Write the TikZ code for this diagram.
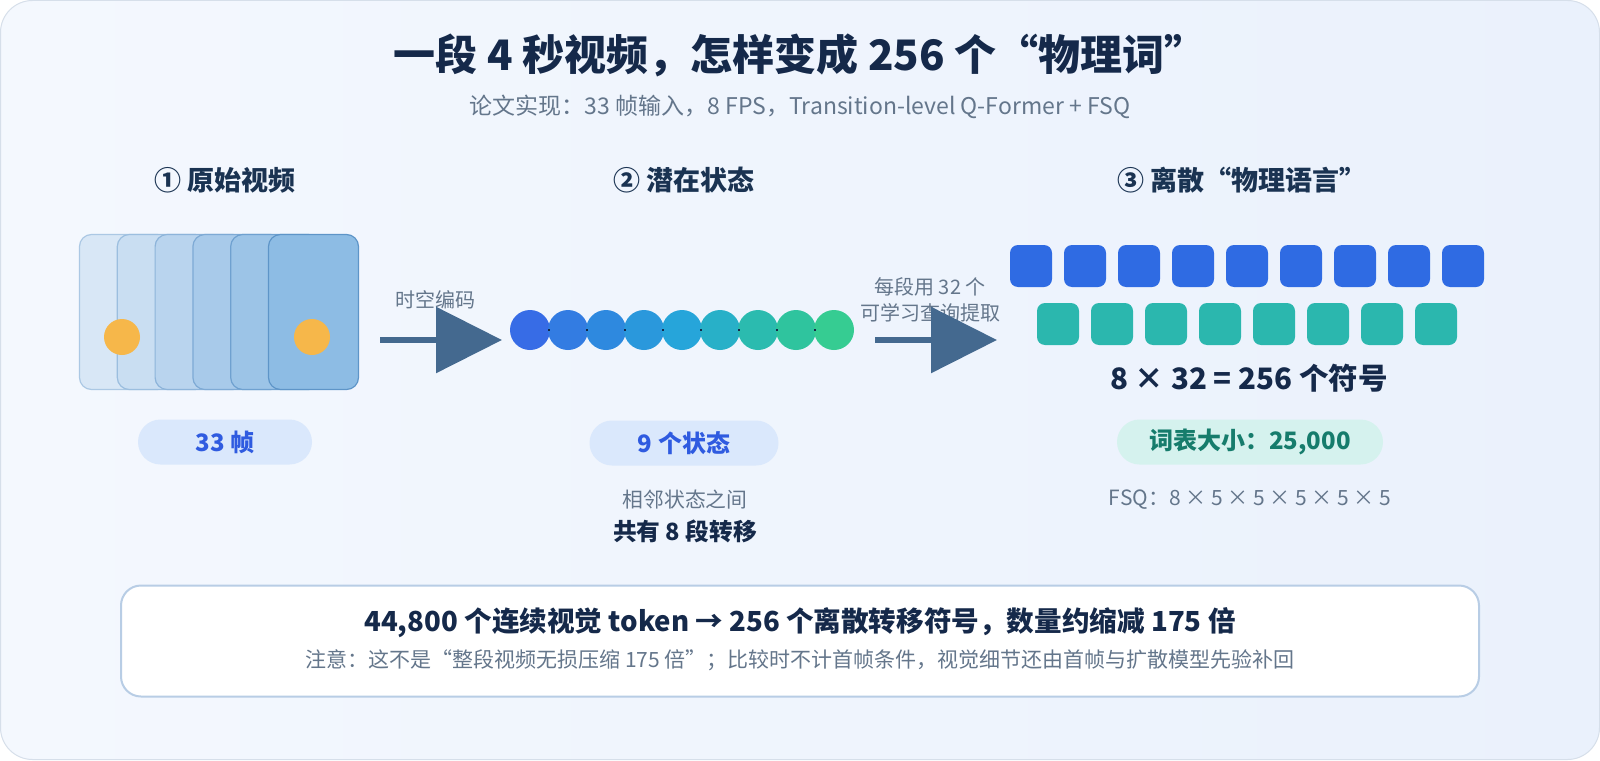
\documentclass[tikz,border=0pt]{standalone}
\usepackage{fontspec}
\setmainfont{Noto Sans CJK SC}
\usetikzlibrary{arrows.meta}
\definecolor{bgA}{HTML}{F4F8FE}
\definecolor{bgB}{HTML}{EAF1FC}
\definecolor{bgline}{HTML}{D6DFEA}
\definecolor{navy}{HTML}{15294A}
\definecolor{head}{HTML}{1A3352}
\definecolor{grayt}{HTML}{64768B}
\definecolor{pillB}{HTML}{DAE8FC}
\definecolor{pillBt}{HTML}{2F5BE0}
\definecolor{pillT}{HTML}{D5F2EE}
\definecolor{pillTt}{HTML}{167C6C}
\definecolor{arrc}{HTML}{44698F}
\definecolor{sqB}{HTML}{2F6BE3}
\definecolor{sqT}{HTML}{2BB7AE}
\definecolor{orng}{HTML}{F6B74A}
\definecolor{S0}{HTML}{376CE6}
\definecolor{S1}{HTML}{337CE2}
\definecolor{S2}{HTML}{2E89DF}
\definecolor{S3}{HTML}{2A98DC}
\definecolor{S4}{HTML}{26A5DA}
\definecolor{S5}{HTML}{28B0C8}
\definecolor{S6}{HTML}{2BBBAF}
\definecolor{S7}{HTML}{2FC49E}
\definecolor{S8}{HTML}{36CC92}
\definecolor{boxline}{HTML}{B8CDE5}
\definecolor{F0}{HTML}{D8E7F6}\definecolor{D0}{HTML}{ABC8E4}
\definecolor{F1}{HTML}{C9DEF2}\definecolor{D1}{HTML}{9BBEDF}
\definecolor{F2}{HTML}{B9D4EE}\definecolor{D2}{HTML}{8DB4DA}
\definecolor{F3}{HTML}{A8CAEA}\definecolor{D3}{HTML}{7EAAD5}
\definecolor{F4}{HTML}{9CC4E7}\definecolor{D4}{HTML}{6FA1D0}
\definecolor{F5}{HTML}{8DBCE4}\definecolor{D5}{HTML}{5E95C8}
\newcommand\fsz[1]{\fontsize{#1}{#1}\selectfont}
\begin{document}
\begin{tikzpicture}[x=1pt,y=-1pt,
  titletext/.style={font=\bfseries\fsz{42}, text=navy},
  subtext/.style={font=\fsz{23}, text=grayt},
  headtext/.style={font=\bfseries\fsz{27}, text=head},
  smalltext/.style={font=\fsz{20}, text=grayt},
  frame/.style={rounded corners=12pt, line width=1.2pt, minimum width=90pt, minimum height=155pt, inner sep=0pt},
  ball/.style={circle, fill=orng, minimum size=36pt, inner sep=0pt},
  state/.style={circle, minimum size=40pt, inner sep=0pt},
  sq/.style={rounded corners=8pt, minimum size=42pt, inner sep=0pt},
  pill/.style={rounded corners=22.5pt, minimum height=45pt, inner sep=0pt, font=\bfseries\fsz{24}},
  arr/.style={draw=arrc, line width=6pt, -{Triangle[length=66pt,width=65pt]}},
]
\useasboundingbox (0,0) rectangle (1600,760);
\shadedraw[rounded corners=32pt, left color=bgA, right color=bgB, draw=bgline, line width=1pt] (0.5,0.5) rectangle (1599.5,759.5);

% title
\node[titletext] (title) at (800,55) {一段 4 秒视频，怎样变成 256 个“物理词”};
\node[subtext] (sub) at (800,107) {论文实现：33 帧输入，8 FPS，Transition-level Q-Former + FSQ};

% headings
\node[headtext] (h1) at (225,180) {① 原始视频};
\node[headtext] (h2) at (684,180) {② 潜在状态};
\node[headtext] (h3) at (1242,180) {③ 离散“物理语言”};

% frames
\foreach \i in {0,...,5}{
  \node[frame, fill=F\i, draw=D\i] (f\i) at ({124.5+37.8*\i},312) {};
}
\node[ball] (b0) at (122,337) {};
\node[ball] (b1) at (312,337) {};

% states
\foreach \i in {0,...,8}{
  \node[state, fill=S\i] (s\i) at ({530+38*\i},330) {};
}
\foreach \i in {0,...,7}{
  \fill[navy] ({548+38*\i},329.3) rectangle ++(2,1.4);
}

% squares
\foreach \i in {0,...,8}{
  \node[sq, fill=sqB] (q\i) at ({1031+54*\i},266) {};
}
\foreach \i in {0,...,7}{
  \node[sq, fill=sqT] (t\i) at ({1058+54*\i},324) {};
}

% arrow labels
\node[smalltext] (l1) at (435,300) {时空编码};
\node[smalltext] (l2a) at (930,287) {每段用 32 个};
\node[smalltext] (l2b) at (930,313) {可学习查询提取};

% arrows
\coordinate (a1s) at (380,340);
\coordinate (a1e) at (502,340);
\coordinate (a2s) at (875,340);
\coordinate (a2e) at (997,340);
\draw[arr] (a1s) -- (a1e);
\draw[arr] (a2s) -- (a2e);

% pills
\node[pill, fill=pillB, text=pillBt, minimum width=174pt] (p1) at (225,442) {33 帧};
\node[pill, fill=pillB, text=pillBt, minimum width=189pt] (p2) at (684,443) {9 个状态};
\node[pill, fill=pillT, text=pillTt, minimum width=266pt] (p3) at (1250,442) {词表大小：25,000};

\node[font=\bfseries\fsz{29.5}, text=navy] (eq) at (1249,378) {8 × 32 = 256 个符号};
\node[font=\fsz{20.8}, text=grayt] (n1) at (685,500) {相邻状态之间};
\node[font=\bfseries\fsz{23.7}, text=navy] (n2) at (685,531) {共有 8 段转移};
\node[font=\fsz{21}, text=grayt] (fsq) at (1250,500) {FSQ：8 × 5 × 5 × 5 × 5 × 5};

% bottom box
\node[rounded corners=20pt, fill=white, draw=boxline, line width=2pt, minimum width=1358pt, minimum height=111pt] (box) at (800,641) {};
\node[font=\bfseries\fsz{27.6}, text=navy] (bl1) at (800,623) {44,800 个连续视觉 token → 256 个离散转移符号，数量约缩减 175 倍};
\node[font=\fsz{21}, text=grayt] (bl2) at (800,660) {注意：这不是“整段视频无损压缩 175 倍”；比较时不计首帧条件，视觉细节还由首帧与扩散模型先验补回};
\end{tikzpicture}
\end{document}
